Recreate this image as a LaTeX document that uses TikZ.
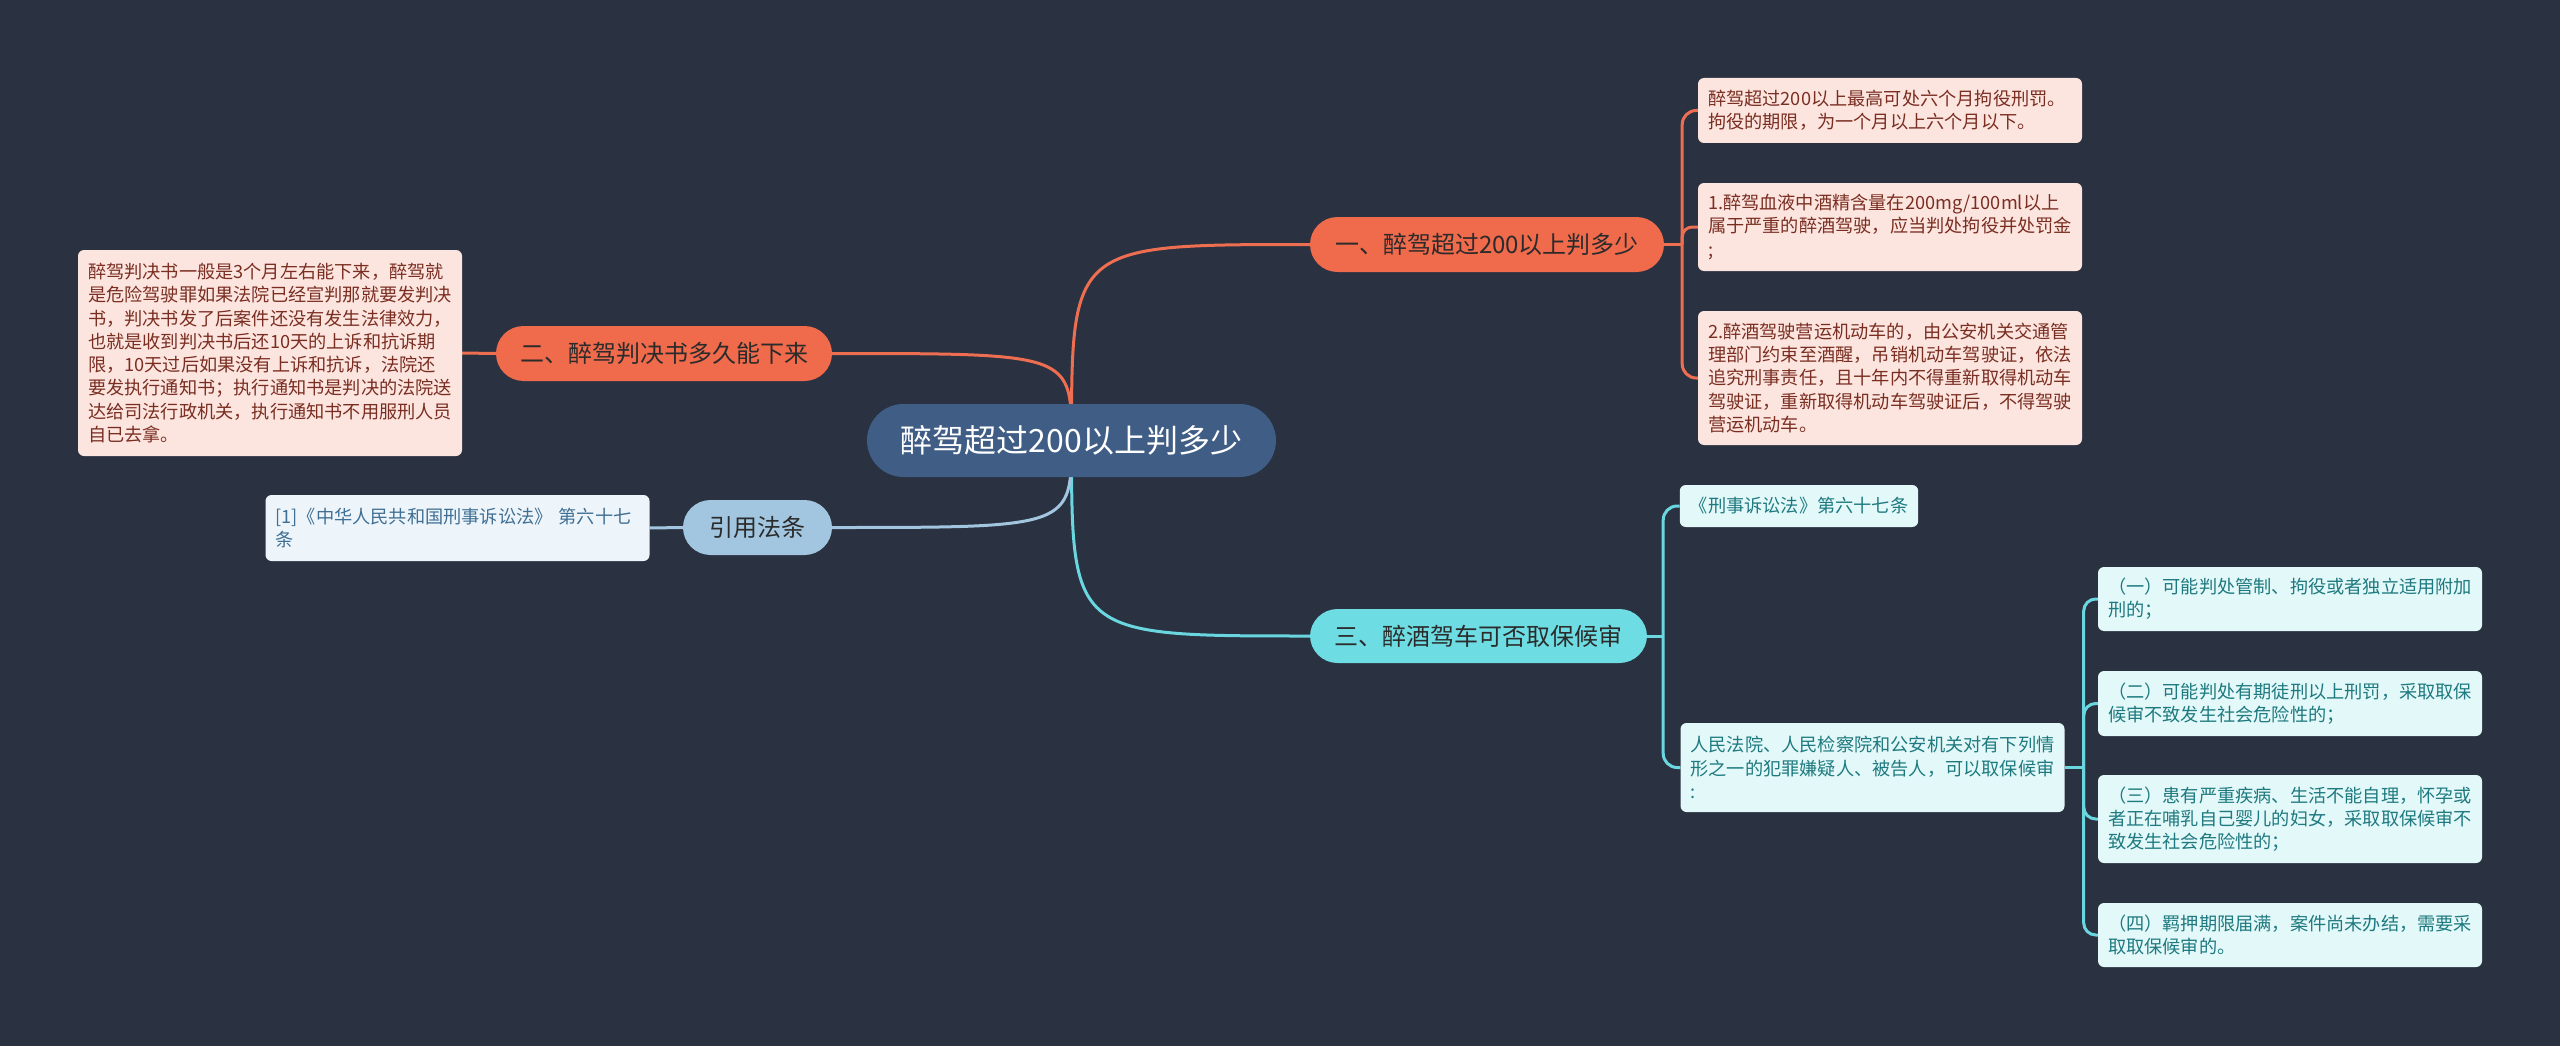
\documentclass[tikz,border=0pt]{standalone}
\usepackage{fontspec}
\setmainfont{Noto Sans CJK SC}
\usetikzlibrary{calc,backgrounds}
\definecolor{bgc}{HTML}{2A3140}
\definecolor{rootc}{HTML}{3F5D85}
\definecolor{orc}{HTML}{F06A4C}
\definecolor{orline}{HTML}{EE6E52}
\definecolor{orfill}{HTML}{FDE5DF}
\definecolor{ortext}{HTML}{7A2E22}
\definecolor{cyc}{HTML}{6EDDE3}
\definecolor{cyline}{HTML}{6AD6DF}
\definecolor{cyfill}{HTML}{E3F8F8}
\definecolor{cytext}{HTML}{1E7A80}
\definecolor{blc}{HTML}{A2C6DF}
\definecolor{blline}{HTML}{A2C6DF}
\definecolor{blfill}{HTML}{EEF5FA}
\definecolor{bltext}{HTML}{3F6F94}
\definecolor{brtext}{HTML}{2B2B2B}
\begin{document}
\begin{tikzpicture}[x=1pt,y=-1pt,
  rootnode/.style={fill=rootc, rounded corners=36.5, minimum width=409, minimum height=73, inner sep=0, text=white, font=\fontsize{32}{38}\selectfont},
  branchnode/.style={rounded corners=27.5, minimum height=55, inner sep=0, text=brtext, font=\fontsize{24}{28}\selectfont},
  leafbox/.style={rounded corners=6, text width=364, inner xsep=10, inner ysep=0, align=left, font=\fontsize{18.2}{23.3}\selectfont},
  oleaf/.style={leafbox, fill=orfill, text=ortext},
  cleaf/.style={leafbox, fill=cyfill, text=cytext},
  bleaf/.style={leafbox, fill=blfill, text=bltext},
  oline/.style={draw=orline, line width=3},
  cline/.style={draw=cyline, line width=3},
  bline/.style={draw=blline, line width=3},
]
\useasboundingbox (0,0) rectangle (2560,1046);
\begin{pgfonlayer}{background}
\fill[bgc] (0,0) rectangle (2560,1046);
\end{pgfonlayer}

% root
\node[rootnode] (root) at (1071.5,440.5) {醉驾超过200以上判多少};

% branches
\node[branchnode, fill=orc, minimum width=354] (b1) at (1487,244.5) {一、醉驾超过200以上判多少};
\node[branchnode, fill=orc, minimum width=336] (b2) at (664,353.5) {二、醉驾判决书多久能下来};
\node[branchnode, fill=cyc, minimum width=337, minimum height=54] (b3) at (1478.5,636) {三、醉酒驾车可否取保候审};
\node[branchnode, fill=blc, minimum width=149] (b4) at (757.5,527.5) {引用法条};

% branch 1 leaves
\node[oleaf, minimum height=65] (la) at (1890,110.5) {醉驾超过200以上最高可处六个月拘役刑罚。\\拘役的期限，为一个月以上六个月以下。};
\node[oleaf, minimum height=88] (lb) at (1890,227) {1.醉驾血液中酒精含量在200mg/100ml以上\\属于严重的醉酒驾驶，应当判处拘役并处罚金\\;};
\node[oleaf, minimum height=134] (lc) at (1890,378) {2.醉酒驾驶营运机动车的，由公安机关交通管\\理部门约束至酒醒，吊销机动车驾驶证，依法\\追究刑事责任，且十年内不得重新取得机动车\\驾驶证，重新取得机动车驾驶证后，不得驾驶\\营运机动车。};

% branch 2 leaf
\node[oleaf, minimum height=206] (ll) at (270,353) {醉驾判决书一般是3个月左右能下来，醉驾就\\是危险驾驶罪如果法院已经宣判那就要发判决\\书，判决书发了后案件还没有发生法律效力，\\也就是收到判决书后还10天的上诉和抗诉期\\限，10天过后如果没有上诉和抗诉，法院还\\要发执行通知书；执行通知书是判决的法院送\\达给司法行政机关，执行通知书不用服刑人员\\自已去拿。};

% reference leaf
\node[bleaf, minimum height=66] (lr) at (457.5,528) {[1]《中华人民共和国刑事诉讼法》~第六十七\\条};

% branch 3 leaves
\node[rounded corners=6, fill=cyfill, text=cytext, inner xsep=10, inner ysep=0, minimum height=42, font=\fontsize{18.2}{23.3}\selectfont] (ld) at (1799,506) {《刑事诉讼法》第六十七条};
\node[cleaf, minimum height=89] (le) at (1872.5,767.5) {人民法院、人民检察院和公安机关对有下列情\\形之一的犯罪嫌疑人、被告人，可以取保候审\\:};

\node[cleaf, minimum height=64] (f1) at (2290,599) {（一）可能判处管制、拘役或者独立适用附加\\刑的；};
\node[cleaf, minimum height=65] (f2) at (2290,703.5) {（二）可能判处有期徒刑以上刑罚，采取取保\\候审不致发生社会危险性的；};
\node[cleaf, minimum height=88] (f3) at (2290,819) {（三）患有严重疾病、生活不能自理，怀孕或\\者正在哺乳自己婴儿的妇女，采取取保候审不\\致发生社会危险性的；};
\node[cleaf, minimum height=64] (f4) at (2290,935) {（四）羁押期限届满，案件尚未办结，需要采\\取取保候审的。};

\coordinate (j1) at ($(b1.east)+(18,0)$);
\coordinate (j3) at ($(b3.east)+(16,0)$);
\coordinate (je) at ($(le.east)+(19,0)$);

\begin{pgfonlayer}{background}
% root connectors
\draw[oline] (root.center) .. controls (root.center |- b1.west) .. (b1.west);
\draw[oline] (root.center) .. controls (root.center |- b2.east) .. (b2.east);
\draw[cline] (root.center) .. controls (root.center |- b3.west) .. (b3.west);
\draw[bline] (root.center) .. controls (root.center |- b4.east) .. (b4.east);
% branch 1
\draw[oline] (b1.east) -- (j1);
\draw[oline, rounded corners=14] (j1) |- (la.west);
\draw[oline, rounded corners=10] (j1) |- (lb.west);
\draw[oline, rounded corners=14] (j1) |- (lc.west);
% branch 2
\draw[oline] (ll.east) -- (b2.west);
% reference
\draw[bline] (lr.east) -- (b4.west);
% branch 3
\draw[cline] (b3.east) -- (j3);
\draw[cline, rounded corners=14] (j3) |- (ld.west);
\draw[cline, rounded corners=14] (j3) |- (le.west);
\draw[cline] (le.east) -- (je);
\draw[cline, rounded corners=12] (je) |- (f1.west);
\draw[cline, rounded corners=12] (je) |- (f2.west);
\draw[cline, rounded corners=12] (je) |- (f3.west);
\draw[cline, rounded corners=12] (je) |- (f4.west);
\end{pgfonlayer}
\end{tikzpicture}
\end{document}
